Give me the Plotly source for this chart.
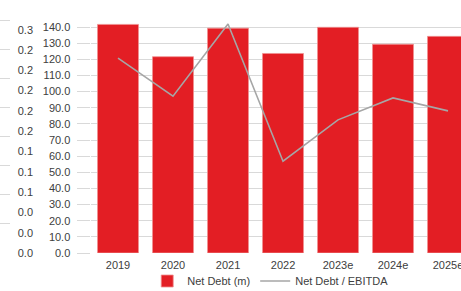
import plotly.graph_objects as go

years = ["2019", "2020", "2021", "2022", "2023e", "2024e", "2025e"]
net_debt = [141.6, 121.6, 139.3, 123.6, 139.8, 129.3, 134.2]
debt_ebitda = [0.240, 0.193, 0.282, 0.113, 0.164, 0.191, 0.175]

y1_ticks = [0, 10, 20, 30, 40, 50, 60, 70, 80, 90, 100, 110, 120, 130, 140]
y2_tickvals = [0, 0.025, 0.05, 0.075, 0.1, 0.125, 0.15, 0.175, 0.2, 0.225, 0.25, 0.275]
y2_ticktext = ["0.0", "0.0", "0.0", "0.1", "0.1", "0.1", "0.2", "0.2", "0.2", "0.2", "0.2", "0.3"]
stub_ticks = [0, 1, 2, 3, 4, 5, 6, 7, 8]

W, H = 461, 291
FONT = "Liberation Sans, Arial, sans-serif"
TXT = "#404040"
GRID = "#D9D9D9"

y_bot, y_top = 253, 19
px_per_unit = (253 - 27) / 140.0
y1_max = (y_bot - y_top) / px_per_unit
y2_max = (y_bot - y_top) / (20.3 / 0.025)
y3_max = (y_bot + 0.5 - y_top) / 29.1

fig = go.Figure()
fig.add_trace(go.Bar(
    x=years, y=net_debt, name="Net Debt (m)",
    marker=dict(color="#E31E24", line=dict(color="#F09090", width=0.8)),
    xaxis="x", yaxis="y",
))
fig.add_trace(go.Scatter(
    x=years, y=debt_ebitda, name="Net Debt / EBITDA", mode="lines",
    line=dict(color="#A6A6A6", width=1.6),
    xaxis="x", yaxis="y2", cliponaxis=False,
))
# stub gridlines of neighbouring axis at the far left
fig.add_trace(go.Scatter(
    x=[0, 1], y=[None, None], mode="lines", showlegend=False,
    xaxis="x2", yaxis="y3", hoverinfo="skip",
))

dom_y = [(H - y_bot) / H, (H - y_top) / H]
x0 = 90.5 / W
fig.update_layout(
    width=W, height=H,
    margin=dict(l=0, r=0, t=0, b=0, autoexpand=False),
    paper_bgcolor="white", plot_bgcolor="white",
    font=dict(family=FONT, size=11, color=TXT),
    bargap=0.255,
    showlegend=True,
    legend=dict(orientation="h", x=(x0 + 1) / 2 - 0.012, xanchor="center",
                y=(H - 281) / H, yanchor="middle", bgcolor="rgba(0,0,0,0)",
                font=dict(size=11, color=TXT), itemwidth=30),
    xaxis=dict(domain=[x0, 1], range=[-0.5, 6.236], type="category",
               showgrid=False, showline=False, ticks="", zeroline=False,
               ticklabelstandoff=4,
               tickfont=dict(size=11, color=TXT), automargin=False),
    yaxis=dict(domain=dom_y, range=[0, y1_max], tickvals=y1_ticks,
               tickformat=".1f", showgrid=True, gridcolor=GRID, gridwidth=1,
               zeroline=False, showline=False, ticks="outside", ticklen=13,
               tickcolor=GRID, tickwidth=1, ticklabelstandoff=4,
               tickfont=dict(size=11, color=TXT), automargin=False),
    yaxis2=dict(domain=dom_y, range=[0, y2_max], overlaying="y", side="left",
                anchor="free", position=33 / W,
                tickvals=y2_tickvals, ticktext=y2_ticktext,
                showgrid=False, zeroline=False, showline=False, ticks="",
                tickfont=dict(size=11, color=TXT), automargin=False),
    xaxis2=dict(domain=[0, 10 / W], range=[0, 1], visible=False, anchor="y3"),
    yaxis3=dict(domain=dom_y, range=[0, y3_max], anchor="x2", tickvals=stub_ticks,
                showgrid=True, gridcolor=GRID, gridwidth=1, zeroline=False,
                showline=False, showticklabels=False, ticks=""),
)

fig.write_html(
    "out.html",
    config={"displayModeBar": False},
    post_script="document.body.style.margin='0';document.body.style.overflow='hidden';",
)
